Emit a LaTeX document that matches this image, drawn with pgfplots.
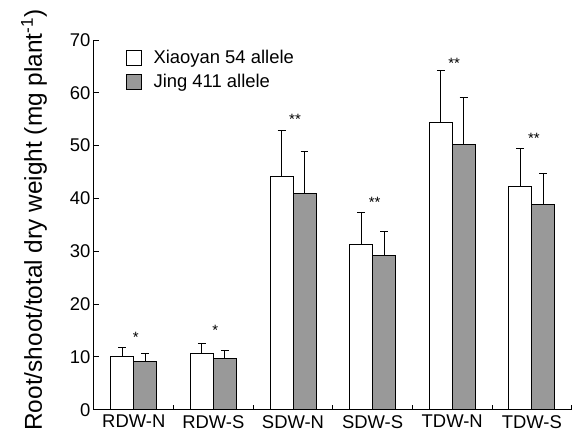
\documentclass[border=0pt]{standalone}
\usepackage{pgfplots}
\pgfplotsset{compat=1.18}
\usepackage{fontspec}
\setmainfont{Liberation Sans}
\setsansfont{Liberation Sans}
\definecolor{bargray}{RGB}{153,153,153}
\pgfplotstableread{
x  w     we    g     ge
0  10.1  1.6   9.2   1.45
1  10.65 1.85  9.65  1.55
2  44.2  8.6   40.9  7.9
3  31.3  6.0   29.2  4.5
4  54.4  9.9   50.2  8.9
5  42.2  7.2   38.9  5.9
}\datatable
\begin{document}
\begin{tikzpicture}
\begin{axis}[
  name=ax,
  scale only axis,
  width=478bp, height=370bp,
  xmin=-0.5, xmax=5.5, ymin=0, ymax=70,
  ybar=0pt, bar width=23bp,
  axis x line*=bottom, axis y line*=left,
  axis line style={line width=0.9pt, black},
  tick align=inside,
  major tick length=5bp,
  tick style={line width=0.9pt, black},
  xtick={-0.5,0.5,1.5,2.5,3.5,4.5,5.5},
  xticklabels={},
  extra x ticks={0,1,2,3,4,5},
  extra x tick labels={RDW-N,RDW-S,SDW-N,SDW-S,TDW-N,TDW-S},
  extra x tick style={major tick length=0pt, tick label style={font=\fontsize{18.5}{20}\selectfont, yshift=-2bp}},
  ytick={0,10,...,70},
  yticklabel style={font=\fontsize{18.5}{20}\selectfont},
  /pgf/number format/assume math mode=true,
  ylabel={Root/shoot/total dry weight (mg plant\textsuperscript{-1})},
  ylabel style={font=\fontsize{24.5}{27}\selectfont, at={(axis description cs:-0.098,0.513)}, anchor=south, inner sep=0pt},
  legend style={at={(axis description cs:0.067,0.978)}, anchor=north west, draw=none, fill=none,
    font=\fontsize{18.5}{21}\selectfont, inner sep=0pt, row sep=5bp, cells={anchor=west}},
  legend image code/.code={\draw[#1, line width=0.9pt] (0bp,-7.5bp) rectangle (15bp,7.5bp); \path[draw=none, fill=none] (0bp,0bp) rectangle (25bp,0.1bp);},
  error bars/error bar style={line width=1pt, black},
  error bars/error mark options={rotate=90, mark size=4bp, line width=1pt, black},
]
\addplot[fill=white, draw=black, line width=0.9pt,
  error bars/.cd, y dir=plus, y explicit]
  table[x=x, y=w, y error=we] {\datatable};
\addlegendentry{Xiaoyan 54 allele}
\addplot[fill=bargray, draw=black, line width=0.9pt,
  error bars/.cd, y dir=plus, y explicit]
  table[x=x, y=g, y error=ge] {\datatable};
\addlegendentry{Jing 411 allele}
\addplot[sharp plot, bar shift=0pt, draw=none, mark=none, forget plot, nodes near coords, point meta=explicit symbolic,
  nodes near coords style={anchor=center, font=\fontsize{15}{15}\selectfont, inner sep=0pt, xshift=2bp, yshift=-2bp}]
  coordinates {(0,14.0)[*] (1,15.45)[*] (2,55.4)[**] (3,39.6)[**] (4,65.9)[**] (5,51.7)[**]};
\end{axis}
\path ([xshift=-94bp,yshift=-29bp]ax.south west) rectangle ([xshift=3bp,yshift=40bp]ax.north east);
\end{tikzpicture}
\end{document}
